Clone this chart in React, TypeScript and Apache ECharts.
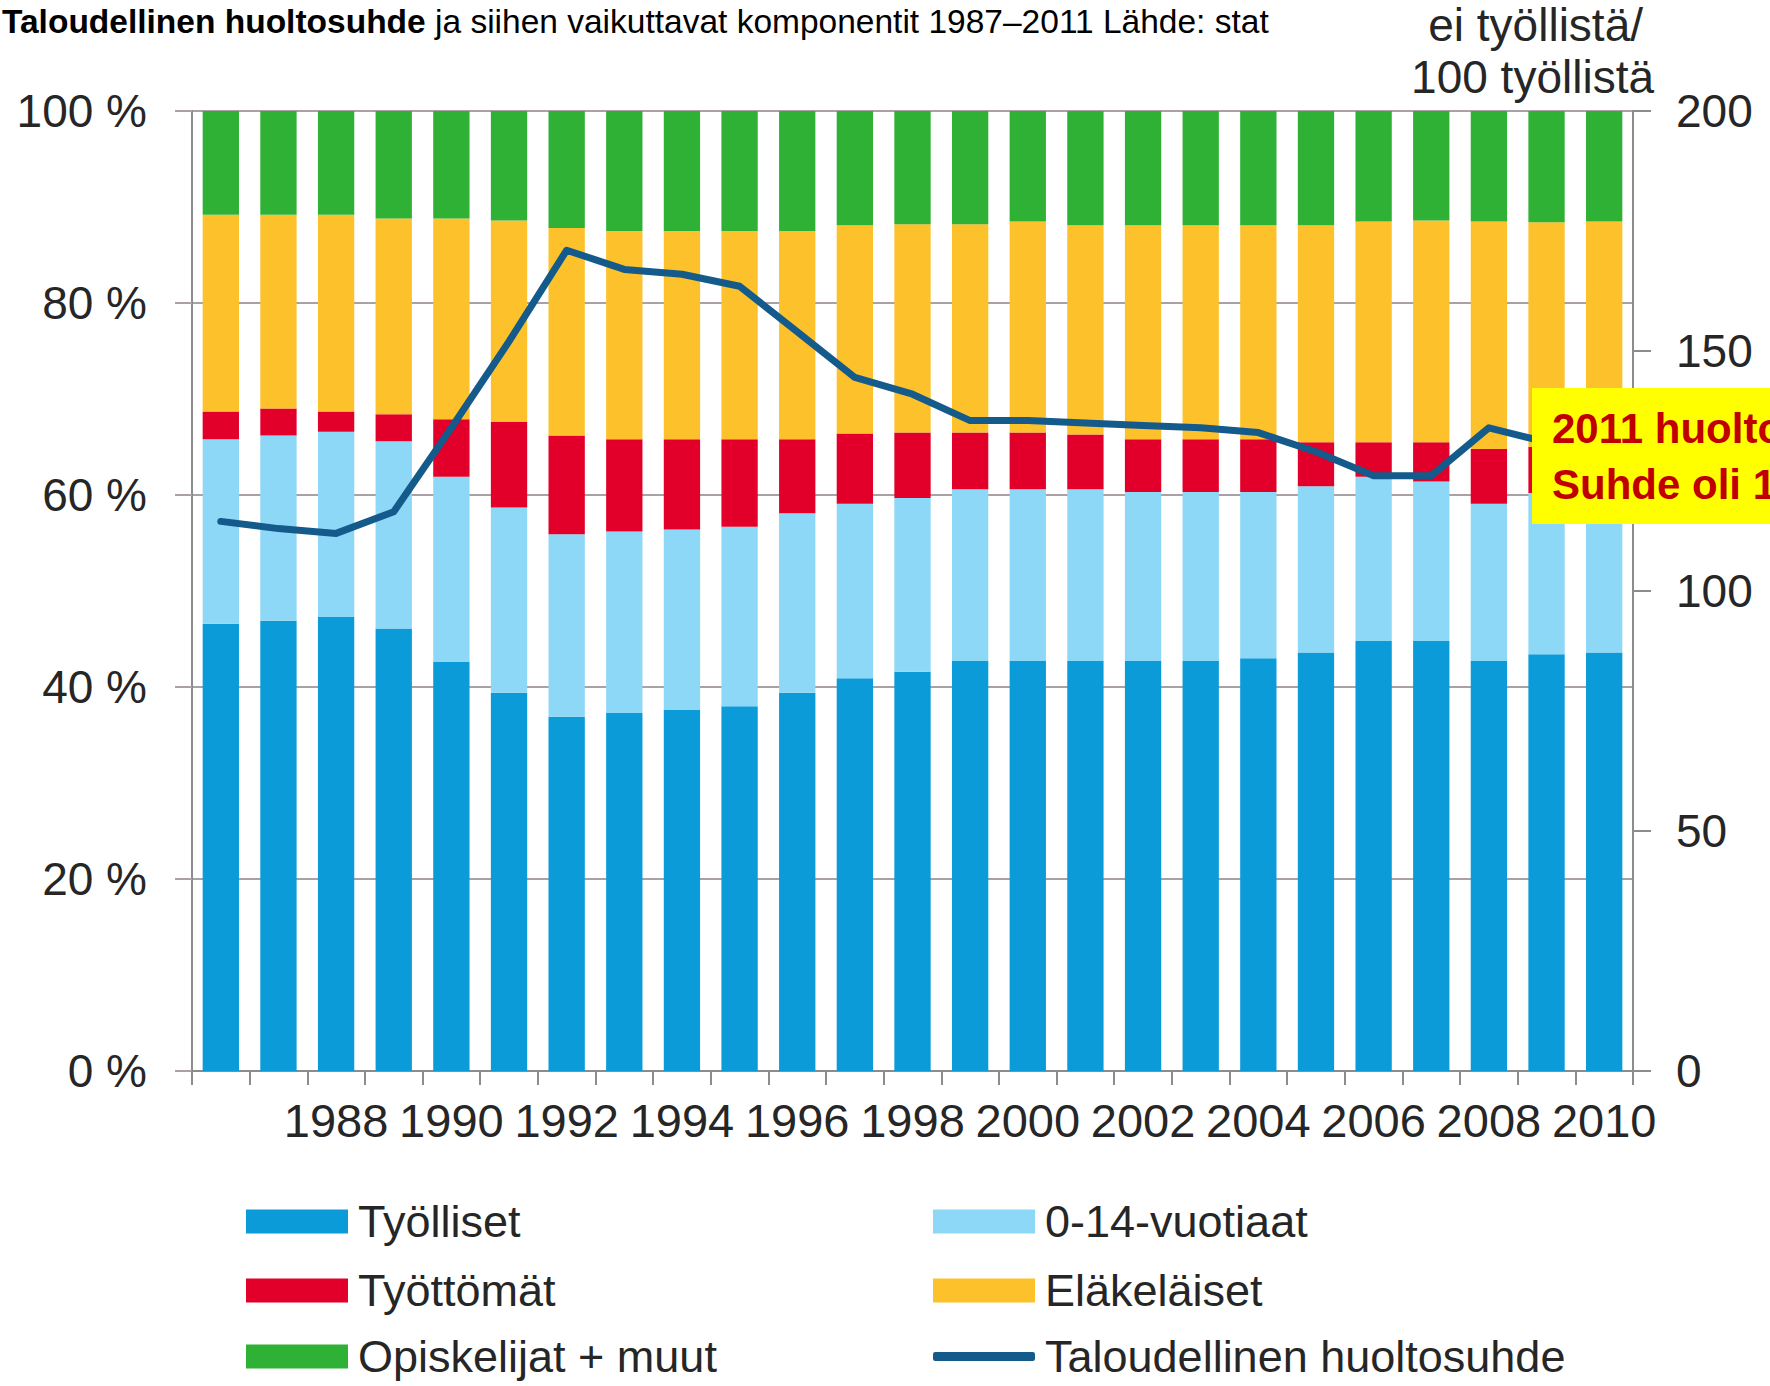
import React, { useEffect, useRef } from "react";
import * as echarts from "echarts";

const years = ["1987","1988","1989","1990","1991","1992","1993","1994","1995","1996","1997","1998","1999","2000","2001","2002","2003","2004","2005","2006","2007","2008","2009","2010","2011"];
const xTickLabels = ["", "", "1988", "", "1990", "", "1992", "", "1994", "", "1996", "", "1998", "", "2000", "", "2002", "", "2004", "", "2006", "", "2008", "", "2010"];

const tyolliset = [46.6, 46.9, 47.3, 46.1, 42.6, 39.4, 36.9, 37.3, 37.6, 38.0, 39.4, 40.9, 41.6, 42.7, 42.7, 42.7, 42.7, 42.7, 43.0, 43.6, 44.8, 44.8, 42.7, 43.4, 43.6];
const lapset = [19.2, 19.3, 19.3, 19.5, 19.3, 19.3, 19.0, 18.9, 18.8, 18.7, 18.7, 18.2, 18.1, 17.9, 17.9, 17.9, 17.6, 17.6, 17.3, 17.3, 17.1, 16.6, 16.4, 16.8, 17.0];
const tyottomat = [2.9, 2.8, 2.1, 2.8, 6.0, 8.9, 10.3, 9.6, 9.4, 9.1, 7.7, 7.3, 6.8, 5.9, 5.9, 5.7, 5.5, 5.5, 5.5, 4.6, 3.6, 4.1, 5.7, 4.8, 4.6];
const elakelaiset = [20.5, 20.2, 20.5, 20.4, 20.9, 21.0, 21.6, 21.7, 21.7, 21.7, 21.7, 21.7, 21.7, 21.7, 22.0, 21.8, 22.3, 22.3, 22.3, 22.6, 23.0, 23.1, 23.7, 23.4, 23.3];
const opiskelijat = [10.8, 10.8, 10.8, 11.2, 11.2, 11.4, 12.2, 12.5, 12.5, 12.5, 12.5, 11.9, 11.8, 11.8, 11.5, 11.9, 11.9, 11.9, 11.9, 11.9, 11.5, 11.4, 11.5, 11.6, 11.5];
const huoltosuhde = [114.5, 113, 112, 116.5, 134, 152, 171, 167, 166, 163.5, 154, 144.5, 141, 135.5, 135.5, 135, 134.5, 134, 133, 129, 124, 124, 134, 131, 130];

const leftTicks = { min: 0, max: 100, interval: 20 };
const rightTicks = { min: 0, max: 200, interval: 50 };

const FONT = "'Liberation Sans', Arial, sans-serif";
const TXT = "#262626";
const AXIS = "#8c8c8c";
const GRID = "#aaa1a7";

const COLORS = {
  tyolliset: "#0a9bd8",
  lapset: "#8dd7f7",
  tyottomat: "#e2002a",
  elakelaiset: "#fdc22b",
  opiskelijat: "#2fb135",
  line: "#145a8a",
};

// legend layout: [series name, column left, row index, is line]
const legendLayout: [string, number, number, boolean][] = [
  ["Työlliset", 246, 0, false],
  ["Työttömät", 246, 1, false],
  ["Opiskelijat + muut", 246, 2, false],
  ["0-14-vuotiaat", 933, 0, false],
  ["Eläkeläiset", 933, 1, false],
  ["Taloudellinen huoltosuhde", 933, 2, true],
];
const rowCenters = [1219, 1288, 1354];

export default function App() {
  const ref = useRef<HTMLDivElement>(null);

  useEffect(() => {
    if (!ref.current) return;
    const chart = echarts.init(ref.current, undefined, { renderer: "svg" });

    const barBase = {
      type: "bar",
      stack: "total",
      barWidth: "63%",
      yAxisIndex: 0,
    };

    const legends = legendLayout.map(([name, left, row, isLine]) => ({
      orient: "horizontal",
      left,
      top: rowCenters[row] - 20,
      padding: 0,
      itemWidth: 102,
      itemHeight: isLine ? 9 : 24,
      icon: isLine ? "roundRect" : "rect",
      selectedMode: false,
      textStyle: {
        fontFamily: FONT,
        fontSize: 45,
        lineHeight: 40,
        color: TXT,
        padding: [0, 0, 0, 5],
      },
      data: [name],
    }));

    const option: any = {
      animation: false,
      backgroundColor: "#ffffff",
      grid: { left: 192, right: 137, top: 111, bottom: 315, containLabel: false },
      legend: legends,
      xAxis: {
        type: "category",
        data: years,
        boundaryGap: true,
        axisLine: { show: true, lineStyle: { color: AXIS, width: 2 } },
        axisTick: { show: true, interval: 0, length: 14, lineStyle: { color: AXIS, width: 2 } },
        axisLabel: {
          interval: 0,
          margin: 26,
          fontFamily: FONT,
          fontSize: 47,
          color: TXT,
          formatter: (_v: string, idx: number) => xTickLabels[idx],
        },
        splitLine: { show: false },
      },
      yAxis: [
        {
          type: "value",
          min: leftTicks.min,
          max: leftTicks.max,
          interval: leftTicks.interval,
          position: "left",
          axisLine: { show: true, lineStyle: { color: AXIS, width: 2 } },
          axisTick: { show: true, length: 17, lineStyle: { color: GRID, width: 2 } },
          axisLabel: {
            margin: 45,
            fontFamily: FONT,
            fontSize: 46,
            color: TXT,
            formatter: (v: number) => `${v} %`,
          },
          splitLine: { show: true, lineStyle: { color: GRID, width: 2 } },
        },
        {
          type: "value",
          min: rightTicks.min,
          max: rightTicks.max,
          interval: rightTicks.interval,
          position: "right",
          axisLine: { show: true, lineStyle: { color: AXIS, width: 2 } },
          axisTick: { show: true, length: 18, lineStyle: { color: AXIS, width: 2 } },
          axisLabel: { margin: 43, fontFamily: FONT, fontSize: 46, color: TXT },
          splitLine: { show: false },
        },
      ],
      series: [
        { ...barBase, name: "Työlliset", data: tyolliset, itemStyle: { color: COLORS.tyolliset } },
        { ...barBase, name: "0-14-vuotiaat", data: lapset, itemStyle: { color: COLORS.lapset } },
        { ...barBase, name: "Työttömät", data: tyottomat, itemStyle: { color: COLORS.tyottomat } },
        { ...barBase, name: "Eläkeläiset", data: elakelaiset, itemStyle: { color: COLORS.elakelaiset } },
        { ...barBase, name: "Opiskelijat + muut", data: opiskelijat, itemStyle: { color: COLORS.opiskelijat } },
        {
          type: "line",
          name: "Taloudellinen huoltosuhde",
          yAxisIndex: 1,
          data: huoltosuhde,
          symbol: "none",
          z: 5,
          itemStyle: { color: COLORS.line },
          lineStyle: { color: COLORS.line, width: 7, cap: "round", join: "round" },
        },
      ],
      graphic: [
        {
          type: "text",
          left: 2,
          top: 4,
          style: {
            text: "{b|Taloudellinen huoltosuhde} ja siihen vaikuttavat komponentit 1987–2011 Lähde: stat",
            fontFamily: FONT,
            fontSize: 33.5,
            fill: "#000000",
            rich: {
              b: { fontFamily: FONT, fontSize: 33.5, fontWeight: "bold", fill: "#000000" },
            },
          },
        },
        {
          type: "text",
          x: 1643,
          y: 25,
          style: {
            text: "ei työllistä/",
            fontFamily: FONT,
            fontSize: 46,
            fill: TXT,
            textAlign: "right",
            textVerticalAlign: "middle",
          },
        },
        {
          type: "text",
          x: 1654,
          y: 77,
          style: {
            text: "100 työllistä",
            fontFamily: FONT,
            fontSize: 46,
            fill: TXT,
            textAlign: "right",
            textVerticalAlign: "middle",
          },
        },
        {
          type: "rect",
          z: 100,
          shape: { x: 1532, y: 388, width: 240, height: 136 },
          style: { fill: "#ffff00" },
        },
        {
          type: "text",
          z: 101,
          x: 1552,
          y: 428,
          style: {
            text: "2011 huolto",
            fontFamily: FONT,
            fontWeight: "bold",
            fontSize: 42,
            fill: "#c00000",
            textVerticalAlign: "middle",
          },
        },
        {
          type: "text",
          z: 101,
          x: 1552,
          y: 484,
          style: {
            text: "Suhde oli 1",
            fontFamily: FONT,
            fontWeight: "bold",
            fontSize: 42,
            fill: "#c00000",
            textVerticalAlign: "middle",
          },
        },
      ],
    };

    chart.setOption(option);
    return () => chart.dispose();
  }, []);

  return (
    <div
      ref={ref}
      style={{ position: "fixed", left: 0, top: 0, width: 1770, height: 1386, background: "#fff" }}
    />
  );
}
